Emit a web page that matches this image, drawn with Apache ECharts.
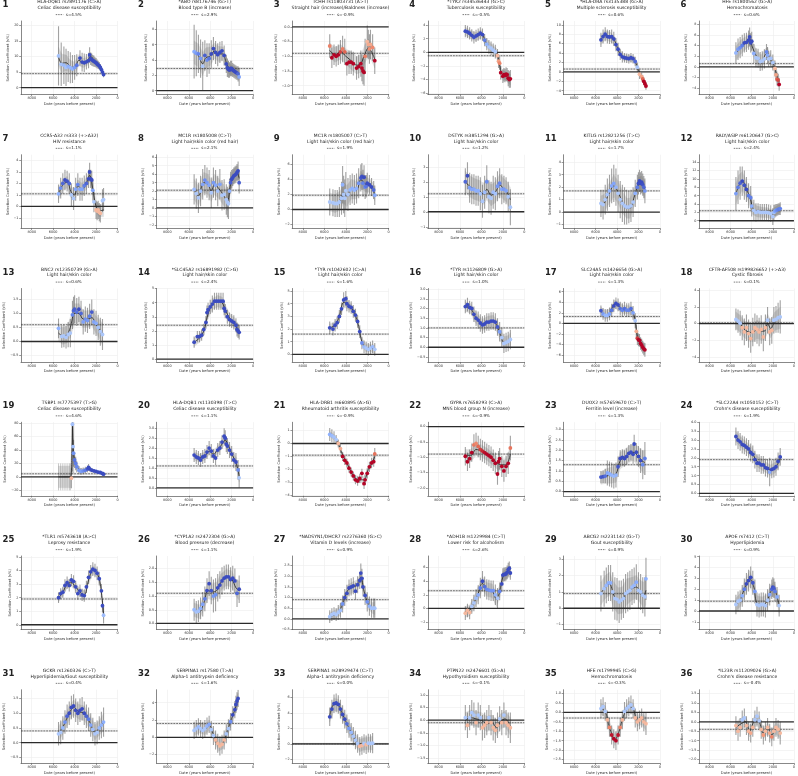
<!DOCTYPE html>
<html><head><meta charset="utf-8">
<script src="https://cdn.jsdelivr.net/npm/echarts@6/dist/echarts.min.js"></script>
<style>html,body{margin:0;padding:0;background:#fff}#c{width:798px;height:776px}</style>
</head><body><div id="c"></div>
<script>
const GENES = ["HLA-DQB1 rs2891176 (C>A)","*ABO rs8176746 (G>T)","TCHH rs11803731 (A>T)","*TYK2 rs34536443 (G>C)","*HLA-DRA rs3135388 (G>A)","HFE rs1800562 (G>A)",
"CCR5-Δ32 rs333 (+>Δ32)","MC1R rs1805008 (C>T)","MC1R rs1805007 (C>T)","DSTYK rs3851294 (G>A)","KITLG rs12821256 (T>C)","RALY/ASIP rs6120647 (G>C)",
"BNC2 rs12350739 (G>A)","*SLC45A2 rs16891982 (C>G)","*TYR rs1042602 (C>A)","*TYR rs1126809 (G>A)","SLC24A5 rs1426654 (G>A)","CFTR-ΔF508 rs199826652 (+>Δ3)",
"TSBP1 rs7775397 (T>G)","HLA-DQB1 rs1130398 (T>C)","HLA-DRB1 rs660895 (A>G)","GYPA rs7658293 (C>A)","DUOX2 rs57659670 (C>T)","*SLC22A4 rs1050152 (C>T)",
"*TLR1 rs5743618 (A>C)","*CYP1A2 rs2472304 (G>A)","*NADSYN1/DHCR7 rs2276360 (G>C)","*ADH1B rs1229984 (C>T)","ABCG2 rs2231142 (G>T)","APOE rs7412 (C>T)",
"GCKR rs1260326 (C>T)","SERPINA1 rs17580 (T>A)","SERPINA1 rs28929474 (C>T)","PTPN22 rs2476601 (G>A)","HFE rs1799945 (C>G)","*IL23R rs11209026 (G>A)"];
const TRAITS = ["Celiac disease susceptibility","Blood type B (increase)","Straight hair (increase)/Baldness (increase)","Tuberculosis susceptibility","Multiple sclerosis susceptibility","Hemochromatosis",
"HIV resistance","Light hair/skin color (red hair)","Light hair/skin color (red hair)","Light hair/skin color","Light hair/skin color","Light hair/skin color",
"Light hair/skin color","Light hair/skin color","Light hair/skin color","Light hair/skin color","Light hair/skin color","Cystic fibrosis",
"Celiac disease susceptibility","Celiac disease susceptibility","Rheumatoid arthritis susceptibility","MNS blood group N (increase)","Ferritin level (increase)","Crohn's disease susceptibility",
"Leprosy resistance","Blood pressure (decrease)","Vitamin D levels (increase)","Lower risk for alcoholism","Gout susceptibility","Hyperlipidemia",
"Hyperlipidemia/Gout susceptibility","Alpha-1 antitrypsin deficiency","Alpha-1 antitrypsin deficiency","Hypothyroidism susceptibility","Hemochromatosis","Crohn's disease resistance"];
const S_MEAN = [4.5,2.9,-0.9,-0.5,0.6,0.6, 1.1,2.1,1.9,1.2,1.7,2.4, 0.6,2.4,1.6,1.0,1.3,0.1, 4.6,1.1,-0.9,-0.9,1.3,1.9, 1.9,1.1,0.9,2.6,0.9,0.9, 0.4,1.6,0.0,-0.1,-0.3,-0.4];
const Y_RANGE = [[-2.2,21.4],[-0.5,9.1],[-2.3,0.2],[-6.2,4.6],[-4.8,10.8],[-5.2,8.6],
[-1.9,4.5],[-2.4,6.3],[-2.5,7.3],[-1.1,3.8],[-1.3,4.6],[-1.8,15.8],
[-0.73,1.89],[-0.2,5.0],[-0.6,5.2],[-0.76,3.03],[-7.3,6.6],[-4.6,4.2],
[-28,81],[-0.4,3.3],[-4.03,1.64],[-2.26,0.14],[-0.2,3.35],[-0.13,4.0],
[-0.35,5.07],[-0.22,2.46],[-0.5,2.95],[-3.1,7.7],[-1.3,3.2],[-1.7,5.06],
[-0.7,1.8],[-3,5.5],[-2.5,7],[-1.7,1.2],[-2.7,1.2],[-2.2,1.7]];
const Y_TICKS = [[0,5,10,15,20],[0,2,4,6,8],[-2,-1.5,-1,-0.5,0],[-6,-4,-2,0,2,4],[-4,-2,0,2,4,6,8,10],[-4,-2,0,2,4,6,8],
[-1,0,1,2,3,4],[-2,-1,0,1,2,3,4,5,6],[-2,0,2,4,6],[-1,0,1,2,3],[-1,0,1,2,3,4],[0,2,4,6,8,10,12,14],
[-0.5,0,0.5,1,1.5],[0,1,2,3,4,5],[0,1,2,3,4,5],[-0.5,0,0.5,1,1.5,2,2.5,3],[-6,-4,-2,0,2,4,6],[-4,-2,0,2,4],
[-20,0,20,40,60,80],[0,0.5,1,1.5,2,2.5,3],[-4,-3,-2,-1,0,1],[-2,-1.5,-1,-0.5,0],[0,0.5,1,1.5,2,2.5,3],[0,0.5,1,1.5,2,2.5,3,3.5,4],
[0,1,2,3,4,5],[0,0.5,1,1.5,2],[-0.5,0,0.5,1,1.5,2,2.5],[-2,0,2,4,6],[-1,0,1,2,3],[-1,0,1,2,3,4,5],
[-0.5,0,0.5,1,1.5],[-2,0,2,4],[-2,0,2,4,6],[-1.5,-1,-0.5,0,0.5,1],[-2.5,-2,-1.5,-1,-0.5,0,0.5,1],[-2,-1.5,-1,-0.5,0,0.5,1,1.5]];
const X_TICKS = [0,2000,4000,6000,8000];
const X_RANGE = [0,9000];

// points: [date, s%, half-width of error bar]
const P01=[[5500,10.2,9.5],[5250,7.5,7],[5000,7.2,6],[4800,6.5,6],[4600,6.8,5],[4400,6.4,5],[4200,6.0,4.5],[4000,6.5,4],[3800,7.2,3.5],[3500,9.5,2.5],[3300,8.2,3],[3100,8.0,3],[2900,8.3,2.5],[2700,8.7,2.5],[2600,10.5,2.5],[2500,9.3,2],[2400,9.0,2],[2300,8.7,1.8],[2200,8.5,1.8],[2100,8.2,1.6],[2000,8.0,1.5],[1900,7.6,1.4],[1800,7.3,1.3],[1700,7.0,1.2],[1600,6.5,1.1],[1500,5.8,1],[1400,5.0,1],[1300,4.2,0.9]];
const P02=[[5500,5.1,3.5],[5300,4.9,3],[5100,4.8,2.5],[4900,4.2,2.5],[4700,3.2,3.2],[4500,4.6,2],[4300,4.0,2.2],[4100,4.2,2],[3900,4.8,1.8],[3700,5.5,1.5],[3500,5.0,1.5],[3300,4.7,1.5],[3100,5.0,1.4],[2900,5.2,1.3],[2700,4.6,1.3],[2500,3.5,1.2],[2400,3.0,1.2],[2300,2.8,1.1],[2200,2.7,1.0],[2100,2.9,1.0],[2000,2.9,1.0],[1900,2.7,0.9],[1800,2.6,0.9],[1700,2.5,0.9],[1600,2.4,0.9],[1500,2.3,0.9],[1400,2.2,1.0],[1300,1.8,1.2]];
const P03=[[5500,-0.65,0.4],[5300,-1.05,0.35],[5100,-0.95,0.35],[4900,-1.0,0.35],[4700,-0.95,0.35],[4500,-0.85,0.4],[4300,-0.75,0.45],[4100,-0.85,0.45],[3900,-1.25,0.4],[3700,-1.2,0.4],[3500,-1.2,0.4],[3300,-1.25,0.4],[3000,-1.4,0.4],[2800,-1.35,0.4],[2600,-1.25,0.45],[2500,-1.4,0.45],[2400,-1.5,0.45],[2300,-1.55,0.45],[2200,-1.0,0.6],[2000,-0.5,0.55],[1900,-0.6,0.5],[1800,-0.75,0.5],[1700,-0.6,0.5],[1500,-0.7,0.45],[1300,-1.15,0.45]];
const P04=[[5500,3.1,0.9],[5300,3.0,0.9],[5100,2.8,0.9],[4900,2.5,0.9],[4700,2.2,0.9],[4500,2.4,0.9],[4300,2.6,0.9],[4100,2.8,0.9],[3900,2.6,0.9],[3700,1.8,0.9],[3500,1.2,0.9],[3300,0.8,1],[3100,0.6,1],[2900,0.3,1],[2700,0.1,1],[2500,-0.5,1],[2400,-1.3,1],[2300,-1.6,1],[2200,-3.0,1],[2000,-3.5,1],[1900,-3.3,1],[1800,-3.4,1],[1700,-3.2,1],[1600,-3.3,1],[1500,-3.8,1.2],[1400,-4.0,1.2],[1300,-3.9,1.3]];
const P05=[[5500,6.8,1.5],[5300,7.5,1.5],[5100,8.0,1.5],[4900,7.5,1.5],[4700,7.4,1.5],[4500,7.5,1.5],[4300,7.0,1.5],[4100,5.8,1.4],[3900,4.8,1.4],[3700,3.7,1.2],[3500,3.2,1.2],[3300,3.0,1],[3100,2.9,1],[2900,2.8,1],[2700,3.0,1],[2500,2.8,1],[2300,2.2,1],[2100,1.0,1],[1900,-0.5,1],[1700,-1.0,0.8],[1600,-1.5,0.8],[1500,-2.0,0.8],[1400,-2.5,0.8],[1300,-3.0,0.8]];
const P06=[[5500,2.6,2],[5300,3.3,2],[5100,3.6,2],[4900,4.0,2],[4700,4.5,1.8],[4500,4.6,1.8],[4300,5.0,1.8],[4200,5.6,1.8],[4100,4.5,1.8],[4000,4.8,1.8],[3800,2.5,1.8],[3600,1.7,1.8],[3400,1.6,1.8],[3200,1.0,1.8],[3000,1.1,1.8],[2800,1.5,1.8],[2600,2.8,1.5],[2500,2.2,1.5],[2400,1.5,1.5],[2200,1.6,1.5],[2000,0.8,1.5],[1800,-0.3,1.5],[1700,-1.5,1.2],[1600,-2.3,1.2],[1500,-2.5,1.2],[1400,-3.3,1.2]];
const P07=[[5500,1.1,0.8],[5300,1.6,0.9],[5100,2.0,0.9],[4900,2.3,0.9],[4700,2.2,0.9],[4500,2.0,0.9],[4300,1.0,1],[4100,0.7,1],[3900,1.5,1],[3700,1.9,1],[3500,1.5,1],[3300,1.5,1],[3100,1.8,0.9],[2900,2.0,0.9],[2700,2.4,0.8],[2600,3.0,0.8],[2500,2.4,0.8],[2400,2.3,0.8],[2300,1.4,0.9],[2200,0.4,0.9],[2000,-0.3,0.8],[1900,-0.4,0.8],[1800,-0.3,0.8],[1700,-0.5,0.8],[1600,-0.6,0.8],[1400,0.5,1],[1300,0.6,1]];
const P08=[[5500,2.2,1.8],[5300,1.7,1.8],[5100,1.2,1.8],[4900,2.0,1.8],[4700,2.8,1.8],[4500,3.3,1.8],[4300,3.0,1.8],[4100,2.7,1.8],[3900,1.8,1.8],[3700,3.0,1.8],[3500,2.7,1.8],[3300,2.0,1.8],[3100,2.8,1.8],[2900,1.5,1.8],[2700,1.6,1.8],[2500,1.0,1.8],[2400,0.7,1.8],[2300,0.5,1.8],[2200,2.0,1.5],[2100,3.0,1.3],[2000,3.4,1.1],[1900,3.6,1],[1800,3.8,1],[1700,3.9,1],[1600,4.0,1],[1500,4.2,1],[1400,4.4,1.1],[1300,3.0,1.3]];
const P09=[[5500,1.0,1.8],[5200,0.9,1.8],[5000,0.8,1.8],[4800,0.8,1.8],[4600,1.0,2],[4400,1.5,2.2],[4300,3.3,2.5],[4200,2.0,2.5],[4100,1.5,2.5],[4000,2.5,2.5],[3800,2.0,2.2],[3600,2.6,2],[3400,2.8,2],[3200,2.6,2],[3000,2.8,2],[2800,3.5,2],[2600,4.2,1.8],[2500,4.4,1.8],[2400,3.5,1.8],[2300,4.3,1.6],[2200,3.0,1.6],[2100,3.1,1.5],[2000,3.5,1.4],[1800,3.3,1.3],[1600,3.0,1.2],[1400,2.6,1.2],[1300,1.9,1.3]];
const P10=[[5500,2.0,0.9],[5300,2.4,0.9],[5100,1.6,1],[4900,1.5,1],[4700,1.5,1],[4500,1.4,1],[4300,1.4,1],[4100,1.2,1.1],[3900,0.7,1.1],[3700,1.3,1.1],[3500,2.0,1.1],[3300,1.0,1.1],[3100,0.9,1.1],[2900,1.3,1.1],[2700,1.2,1.1],[2500,1.7,1],[2300,1.9,1],[2100,1.5,1],[1900,1.5,0.9],[1700,1.4,0.9],[1500,1.0,1],[1300,0.3,1.2]];
const P11=[[5500,0.7,1.1],[5300,0.6,1.2],[5100,1.0,1.2],[4900,1.4,1.3],[4700,1.7,1.3],[4500,2.1,1.4],[4300,2.3,1.5],[4100,2.0,1.5],[3900,1.5,1.5],[3700,1.0,1.5],[3500,0.7,1.5],[3300,0.5,1.5],[3100,0.4,1.4],[2900,0.4,1.3],[2700,0.5,1.3],[2500,0.8,1.2],[2300,1.5,1.1],[2100,2.0,1],[2000,2.3,0.9],[1900,2.5,0.9],[1800,2.3,0.9],[1700,2.4,0.9],[1600,2.2,0.9],[1500,2.0,0.9],[1400,1.7,1]];
const P12=[[5500,6.5,4],[5300,8.0,4],[5100,9.0,4],[4900,9.5,3.5],[4700,8.5,3.5],[4500,7.5,3],[4300,6.0,3],[4100,5.5,2.8],[4000,3.5,2.5],[3800,2.5,2.5],[3600,2.0,2.2],[3400,2.2,2],[3200,2.0,2],[3000,2.0,2],[2800,2.0,2],[2600,2.0,2],[2400,1.9,2],[2200,1.7,2],[2000,1.0,2],[1900,2.0,1.8],[1800,2.3,1.5],[1700,2.5,1.5],[1600,2.6,1.4],[1500,2.7,1.4],[1400,2.8,1.4],[1300,2.9,1.5]];
const P13=[[5500,0.47,0.35],[5200,0.18,0.4],[5000,0.2,0.4],[4800,0.15,0.4],[4600,0.25,0.45],[4400,0.3,0.5],[4200,0.95,0.5],[4100,1.1,0.5],[4000,1.15,0.5],[3800,1.05,0.5],[3600,1.15,0.45],[3400,1.0,0.45],[3200,0.7,0.45],[3000,0.8,0.45],[2800,0.75,0.45],[2600,0.9,0.45],[2400,1.05,0.45],[2200,0.7,0.45],[2000,0.65,0.45],[1800,0.5,0.45],[1600,0.35,0.5],[1400,0.25,0.55]];
const P14=[[5500,1.2,0.4],[5200,1.6,0.4],[5000,1.6,0.4],[4800,1.7,0.4],[4600,2.1,0.4],[4400,2.6,0.45],[4300,3.3,0.5],[4200,3.5,0.5],[4000,3.7,0.5],[3800,3.9,0.6],[3600,4.1,0.6],[3400,4.1,0.6],[3200,4.1,0.6],[3000,4.1,0.6],[2800,4.1,0.6],[2700,3.6,0.5],[2600,3.4,0.5],[2400,3.0,0.5],[2200,2.8,0.5],[2000,2.7,0.5],[1800,2.6,0.5],[1600,2.4,0.5],[1500,2.1,0.5],[1400,2.0,0.5],[1300,1.9,0.5]];
const P15=[[5500,2.1,0.5],[5200,2.0,0.5],[5000,2.3,0.5],[4800,2.5,0.5],[4600,3.0,0.5],[4400,3.6,0.5],[4200,4.3,0.6],[4000,4.4,0.6],[3900,4.0,0.6],[3700,3.8,0.5],[3500,3.7,0.5],[3300,3.4,0.5],[3100,3.1,0.5],[2900,2.6,0.5],[2700,1.8,0.5],[2500,0.9,0.5],[2300,0.6,0.5],[2100,0.5,0.5],[1900,0.4,0.5],[1700,0.5,0.5],[1500,0.6,0.5],[1300,0.4,0.5]];
const P16=[[5500,2.1,0.35],[5300,2.2,0.35],[5100,2.05,0.35],[4900,2.0,0.35],[4700,1.7,0.4],[4500,1.5,0.4],[4300,1.4,0.45],[4100,1.25,0.45],[3900,1.15,0.45],[3700,1.2,0.45],[3500,1.3,0.45],[3300,1.3,0.45],[3100,1.35,0.45],[2900,1.35,0.45],[2700,1.3,0.45],[2500,1.05,0.45],[2300,0.8,0.5],[2100,0.5,0.5],[1900,0.2,0.5],[1700,0.25,0.5],[1500,0.3,0.5],[1300,0.4,0.5]];
const P17=[[5500,2.4,1],[5300,1.8,1.1],[5100,1.5,1.2],[4900,1.5,1.2],[4700,1.8,1.2],[4500,2.5,1.2],[4300,3.3,1.2],[4100,3.8,1.1],[3900,3.5,1.2],[3700,2.8,1.3],[3500,2.5,1.3],[3300,2.8,1.3],[3100,2.5,1.3],[2900,2.5,1.3],[2700,2.8,1.3],[2500,2.0,1.3],[2300,0.5,1.4],[2200,-1.5,1.3],[2100,-2.8,1.3],[2000,-3.1,1.2],[1900,-3.2,1.2],[1800,-3.8,1.2],[1700,-4.1,1.2],[1600,-4.5,1.2],[1500,-4.8,1.2],[1400,-5.0,1.3]];
const P18=[[5500,0.5,1.3],[5300,0.3,1.4],[5100,0.05,1.5],[4900,-0.5,1.5],[4700,-1.0,1.6],[4500,-0.5,1.6],[4300,-1.2,1.7],[4100,-1.8,1.7],[3900,-1.0,1.7],[3700,-0.5,1.7],[3500,-0.7,1.7],[3300,-1.0,1.7],[3100,-0.7,1.7],[2900,-1.6,1.7],[2700,-0.5,1.6],[2500,0.4,1.6],[2300,-1.0,1.6],[2100,-0.8,1.6],[1900,0.4,1.6],[1700,0.5,1.6],[1500,0.7,1.8],[1300,0.8,2]];
const P19=[[5500,null,20],[5300,null,20],[5100,null,20],[4900,null,20],[4700,null,20],[4500,null,20],[4400,null,20],[4300,-2,15],[4200,78,70],[4150,45,40],[4100,35,20],[4000,25,12],[3900,20,10],[3800,15,8],[3600,10,6],[3400,8,5],[3200,9,5],[3000,10,5],[2800,12,5],[2700,14,5],[2600,12,4],[2400,10,3],[2200,9,2.5],[2000,8,2],[1800,7,1.8],[1600,6.5,1.5],[1400,5,1.2],[1300,4,1]];
const P20=[[5500,1.65,0.35],[5300,1.55,0.35],[5100,1.5,0.35],[4900,1.4,0.35],[4700,1.55,0.35],[4500,1.6,0.35],[4300,1.8,0.35],[4100,2.0,0.35],[3900,1.85,0.35],[3700,1.6,0.35],[3500,1.5,0.35],[3300,1.9,0.35],[3100,2.0,0.35],[2900,2.3,0.35],[2700,2.6,0.4],[2600,2.5,0.4],[2500,2.2,0.4],[2400,2.1,0.4],[2200,1.9,0.4],[2000,1.7,0.4],[1800,1.4,0.4],[1600,1.3,0.45],[1400,0.9,0.5],[1300,0.5,0.5]];
const P21=[[5500,0.7,0.5],[5300,0.6,0.5],[5100,0.5,0.45],[4900,0.3,0.35],[4700,0.0,0.3],[4500,-0.4,0.35],[4300,-1.0,0.35],[4100,-1.3,0.35],[3900,-1.5,0.35],[3700,-1.9,0.35],[3500,-2.2,0.35],[3300,-2.5,0.35],[3100,-2.8,0.35],[2900,-2.9,0.35],[2700,-2.7,0.35],[2500,-2.3,0.35],[2300,-3.1,0.4],[2200,-2.8,0.4],[2000,-2.3,0.4],[1800,-1.8,0.4],[1600,-1.5,0.4],[1400,-1.4,0.4],[1300,-0.8,0.45]];
const P22=[[5500,-0.97,0.3],[5300,-1.15,0.3],[5100,-1.05,0.3],[4900,-0.85,0.3],[4700,-0.6,0.35],[4500,-0.55,0.35],[4300,-0.65,0.35],[4100,-0.75,0.35],[3900,-0.8,0.35],[3700,-0.85,0.35],[3500,-0.9,0.35],[3300,-0.95,0.35],[3100,-1.0,0.35],[2900,-1.1,0.35],[2700,-1.2,0.35],[2500,-1.55,0.35],[2400,-1.15,0.35],[2300,-1.05,0.35],[2100,-1.3,0.35],[1900,-1.45,0.35],[1700,-1.3,0.35],[1500,-1.2,0.35],[1300,-0.7,0.4]];
const P23=[[5500,0.7,0.3],[5300,0.72,0.3],[5100,0.75,0.35],[4900,0.9,0.6],[4700,0.85,0.6],[4500,0.8,0.6],[4300,0.75,0.6],[4100,0.8,0.6],[3900,1.2,0.5],[3700,1.6,0.4],[3500,1.65,0.4],[3300,1.6,0.4],[3100,1.7,0.4],[2900,1.85,0.4],[2700,1.9,0.4],[2500,1.8,0.45],[2400,2.3,0.45],[2200,1.9,0.45],[2000,1.7,0.5],[1800,1.5,0.6],[1600,1.3,0.7],[1400,1.6,0.8]];
const P24=[[5500,3.2,0.5],[5300,3.0,0.5],[5100,2.9,0.5],[4900,2.75,0.5],[4700,2.7,0.5],[4500,2.6,0.5],[4300,2.5,0.5],[4100,2.3,0.5],[3900,2.2,0.5],[3700,1.9,0.5],[3500,1.7,0.5],[3300,1.7,0.5],[3100,1.6,0.5],[2900,1.6,0.5],[2700,1.45,0.5],[2500,1.4,0.5],[2300,1.2,0.8],[2100,1.35,0.5],[1900,1.4,0.5],[1700,1.5,0.5],[1500,1.8,0.5],[1300,2.05,0.5]];
const P25=[[5500,2.0,0.4],[5300,2.3,0.4],[5100,2.4,0.4],[4900,2.9,0.45],[4700,3.1,0.45],[4500,2.9,0.45],[4300,3.3,0.45],[4100,3.2,0.45],[3900,2.8,0.45],[3700,2.3,0.45],[3500,2.5,0.45],[3300,2.2,0.45],[3100,2.15,0.45],[2900,2.8,0.45],[2700,3.5,0.5],[2500,3.9,0.5],[2300,4.1,0.5],[2100,4.0,0.5],[1900,3.8,0.5],[1700,3.4,0.5],[1500,2.5,0.5],[1400,1.4,0.5],[1300,0.7,0.6]];
const P26=[[5500,0.5,0.4],[5300,0.42,0.4],[5100,0.45,0.4],[4900,0.55,0.4],[4700,0.7,0.45],[4500,0.9,0.45],[4300,1.2,0.45],[4100,1.45,0.45],[3900,1.2,0.5],[3700,1.0,0.6],[3500,1.05,0.6],[3300,1.3,0.5],[3100,1.4,0.5],[2900,1.55,0.5],[2700,1.65,0.45],[2500,1.7,0.45],[2300,1.7,0.45],[2100,1.6,0.45],[1900,1.65,0.45],[1700,1.55,0.45],[1500,1.1,0.5],[1300,1.25,0.5]];
const P27=[[5500,0.1,0.3],[5300,0.2,0.3],[5100,0.25,0.3],[4900,0.2,0.3],[4700,0.3,0.35],[4500,0.4,0.35],[4300,0.7,0.4],[4100,1.0,0.4],[3900,1.2,0.4],[3700,1.45,0.4],[3500,1.5,0.4],[3300,1.55,0.4],[3100,1.3,0.4],[2900,1.6,0.4],[2700,1.8,0.4],[2600,2.15,0.45],[2500,1.9,0.45],[2400,1.5,0.45],[2200,1.1,0.45],[2000,0.8,0.45],[1800,0.6,0.45],[1600,0.5,0.45],[1400,0.5,0.45],[1300,0.5,0.45]];
const P28=[[5500,-0.7,1],[5300,-0.3,1],[5100,-0.6,1],[4900,0.3,1.1],[4700,0.8,1.2],[4500,1.5,1.3],[4300,2.0,1.4],[4100,3.0,1.5],[3900,4.0,1.5],[3700,3.2,1.5],[3500,2.8,1.5],[3300,2.7,1.5],[3100,2.6,1.5],[2900,2.6,1.5],[2700,2.0,1.5],[2500,1.5,1.5],[2300,2.5,1.3],[2100,3.6,1.2],[2000,4.9,1],[1900,5.0,1],[1800,5.0,1],[1700,5.1,1],[1600,5.3,1],[1500,5.7,1],[1400,5.9,1],[1300,5.2,1]];
const P29=[[5500,0.9,1.1],[5200,1.2,1.1],[5000,1.4,1.1],[4800,1.55,1.1],[4600,1.55,1.1],[4400,1.0,1.2],[4200,0.6,1.3],[4000,0.55,1.3],[3800,0.4,1.3],[3600,0.5,1.2],[3400,0.6,1.2],[3200,0.9,1.2],[3000,1.0,1.2],[2800,1.1,1.2],[2600,1.3,1.1],[2400,1.4,1.1],[2200,1.6,1.1],[2000,1.1,1.1],[1800,1.0,1.1],[1600,0.8,1.1],[1400,0.7,1.2],[1300,1.8,1.3]];
const P30=[[5500,0.6,0.9],[5300,0.9,0.9],[5100,1.0,0.9],[4900,1.4,1],[4700,2.0,1],[4500,2.5,1],[4300,2.8,1],[4100,3.1,1],[3900,2.6,1.1],[3700,1.8,1.1],[3500,0.6,1.1],[3300,0.5,1.1],[3100,0.6,1.1],[2900,0.6,1.1],[2700,0.5,1.1],[2500,1.0,1],[2300,1.5,1],[2100,2.0,0.9],[2000,2.2,0.9],[1900,2.1,0.9],[1800,1.8,0.9],[1600,1.3,0.9],[1400,0.5,1]];
const P31=[[5500,0.3,0.4],[5300,0.35,0.4],[5100,0.5,0.4],[4900,0.7,0.4],[4700,0.9,0.4],[4500,1.0,0.4],[4300,1.2,0.4],[4100,1.25,0.4],[3900,1.1,0.4],[3700,1.0,0.4],[3500,1.1,0.4],[3300,1.15,0.4],[3100,1.0,0.4],[2900,0.9,0.4],[2700,0.8,0.4],[2500,0.6,0.4],[2300,0.45,0.4],[2100,0.3,0.4],[1900,0.35,0.4],[1700,0.5,0.4],[1500,0.6,0.45],[1300,0.7,0.5]];
const P32=[[5500,0.8,1],[5300,1.0,1],[5100,1.2,1],[4900,1.0,1],[4700,0.8,1],[4500,1.0,1],[4300,1.3,1],[4100,1.5,1],[3900,0.9,1],[3700,0.2,1.1],[3500,-0.3,1.1],[3300,-0.7,1.1],[3100,-1.0,1.1],[2900,-0.8,1.1],[2700,-0.3,1.1],[2500,0.4,1.1],[2300,1.0,1.1],[2100,1.8,1],[1900,2.6,1],[1700,3.2,1],[1600,3.8,1],[1500,4.2,1],[1400,4.5,1]];
const P33=[[5500,3.5,1.2],[5300,4.5,1.2],[5100,5.2,1.2],[4900,5.3,1.2],[4700,5.1,1.2],[4500,4.5,1.2],[4300,3.8,1.2],[4100,3.2,1.2],[3900,2.6,1.2],[3700,2.0,1.2],[3500,1.5,1.2],[3300,1.0,1.2],[3100,0.5,1.2],[2900,0.05,1.2],[2700,-0.3,1.2],[2500,-0.2,1.2],[2300,0.05,1.2],[2100,-0.1,1.2],[1900,0.1,1.2],[1700,0.05,1.2],[1500,0.1,1.3]];
const P34=[[5500,0.1,0.5],[5300,-0.2,0.5],[5100,0.1,0.5],[4900,0.3,0.5],[4700,0.2,0.5],[4500,-0.1,0.5],[4300,0.2,0.5],[4100,0.1,0.5],[3900,-0.3,0.5],[3700,-0.2,0.5],[3500,-0.1,0.5],[3300,0.1,0.5],[3100,-0.1,0.5],[2900,-0.3,0.5],[2700,-0.4,0.5],[2500,-0.2,0.5],[2300,0.05,0.5],[2100,-0.1,0.5],[1900,0.2,0.5],[1700,-0.1,0.5],[1500,-0.2,0.5],[1300,-0.3,0.6]];
const P35=[[5500,0.2,0.5],[5300,0.3,0.5],[5100,0.05,0.5],[4900,-0.4,0.5],[4700,-0.8,0.5],[4500,-1.2,0.5],[4300,-1.4,0.5],[4100,-1.5,0.5],[3900,-1.2,0.5],[3700,-0.8,0.5],[3500,-0.4,0.5],[3300,0.05,0.5],[3100,0.2,0.5],[2900,0.3,0.5],[2700,0.4,0.5],[2500,0.2,0.5],[2300,-0.3,0.5],[2100,-0.5,0.5],[1900,-0.4,0.5],[1700,-0.3,0.5],[1500,-0.5,0.5],[1300,-0.6,0.6]];
const P36=[[5500,-0.2,0.5],[5300,-0.5,0.5],[5100,-0.3,0.5],[4900,0.1,0.5],[4700,0.2,0.5],[4500,-0.2,0.5],[4300,-0.5,0.5],[4100,-0.6,0.5],[3900,-0.3,0.5],[3700,0.1,0.5],[3500,0.3,0.5],[3300,0.05,0.5],[3100,-0.4,0.5],[2900,-0.7,0.5],[2700,-0.5,0.5],[2500,-0.3,0.5],[2300,-0.6,0.5],[2100,-0.8,0.5],[1900,-0.5,0.5],[1700,-0.3,0.5],[1500,-0.4,0.5],[1300,-0.6,0.6]];

// smoothed trajectory knots: [date, s%, half-width of shaded interval]
const L01=[[5500,10,3],[5200,7.8,3],[4800,8.0,2.5],[4400,6.8,2],[4000,6.2,2],[3600,8.8,1.8],[3200,8.0,1.5],[2800,8.5,1.3],[2500,10.0,1.2],[2200,8.8,1],[1800,7.4,0.8],[1500,5.8,0.7],[1300,4.3,0.6]];
const L02=[[5500,5.0,1.5],[5100,4.6,1.5],[4700,3.5,1.5],[4400,4.3,1.3],[4000,4.5,1.2],[3600,5.2,1],[3200,4.8,1],[2800,4.8,0.9],[2500,3.6,0.8],[2200,2.8,0.7],[1800,2.6,0.6],[1300,2.1,0.7]];
const L03=[[5500,-0.8,0.25],[5000,-0.95,0.25],[4500,-0.85,0.25],[4000,-1.0,0.25],[3500,-1.15,0.3],[3000,-1.3,0.3],[2600,-1.25,0.3],[2200,-0.9,0.3],[1900,-0.72,0.3],[1600,-0.85,0.3],[1300,-1.1,0.3]];
const L04=[[5500,3.1,0.6],[5000,2.6,0.6],[4500,2.3,0.6],[4000,2.7,0.6],[3600,1.5,0.6],[3000,0.5,0.6],[2600,0,0.6],[2300,-1.8,0.6],[2100,-3.2,0.6],[1800,-3.4,0.6],[1500,-3.8,0.7],[1300,-4.0,0.8]];
const L05=[[5500,6.8,1],[5100,7.8,1],[4600,7.4,1],[4200,6.5,0.9],[3800,4.2,0.8],[3400,3.1,0.7],[2800,2.9,0.7],[2400,2.6,0.7],[2100,1.0,0.6],[1800,-0.8,0.6],[1500,-2.0,0.6],[1300,-3.0,0.6]];
const L06=[[5500,2.5,1.3],[5000,3.8,1.3],[4500,4.6,1.2],[4200,5.2,1.2],[3900,3.5,1.2],[3500,1.8,1.2],[3100,1.0,1.2],[2700,2.3,1.1],[2500,2.6,1],[2300,1.6,1],[1900,0.3,1],[1600,-1.8,1],[1400,-2.8,1]];
const L07=[[5500,1.1,0.5],[5100,1.9,0.5],[4700,2.1,0.5],[4300,1.2,0.5],[4000,1.0,0.5],[3700,1.8,0.5],[3300,1.5,0.5],[2900,2.0,0.5],[2600,2.7,0.5],[2300,1.5,0.5],[2000,0.0,0.5],[1700,-0.4,0.5],[1300,-0.3,0.6]];
const L08=[[5500,2.2,1.2],[5100,1.4,1.2],[4600,3.0,1.2],[4200,2.8,1.2],[3900,2.0,1.2],[3600,2.8,1.2],[3200,2.3,1.2],[2800,1.6,1.2],[2400,0.8,1.1],[2100,2.8,1],[1800,3.8,0.8],[1500,4.2,0.8],[1300,3.5,0.9]];
const L09=[[5500,1.0,1.2],[5000,0.8,1.2],[4500,1.2,1.3],[4200,2.2,1.4],[3900,1.8,1.4],[3500,2.7,1.3],[3000,2.6,1.2],[2600,4.0,1.1],[2200,3.4,1],[1800,3.2,0.9],[1500,2.7,0.9],[1300,2.0,0.9]];
const L10=[[5500,2.0,0.7],[5100,1.7,0.7],[4600,1.5,0.7],[4200,1.4,0.7],[3800,1.2,0.7],[3500,1.5,0.7],[3100,1.1,0.7],[2700,1.3,0.7],[2300,1.8,0.7],[1900,1.5,0.7],[1600,1.3,0.7],[1300,0.8,0.8]];
const L11=[[5500,0.6,0.7],[5200,0.7,0.7],[4800,1.4,0.8],[4300,2.1,0.9],[3900,1.6,0.9],[3500,0.8,0.9],[3100,0.3,0.8],[2800,0.3,0.8],[2400,1.2,0.7],[2000,2.2,0.6],[1700,2.3,0.6],[1400,1.8,0.7]];
const L12=[[5500,6.5,2.5],[5200,8.5,2.5],[4900,9.5,2.3],[4500,7.5,2],[4100,5.0,1.8],[3900,3.0,1.5],[3500,2.2,1.3],[3000,2.0,1.2],[2500,1.9,1.2],[2100,1.5,1.1],[1800,2.2,1],[1500,2.7,1],[1300,2.9,1]];
const L13=[[5500,0.3,0.3],[5100,0.2,0.3],[4700,0.25,0.3],[4400,0.5,0.35],[4000,1.0,0.35],[3600,1.0,0.35],[3200,0.8,0.3],[2800,0.8,0.3],[2400,0.85,0.3],[2000,0.6,0.3],[1600,0.4,0.35],[1400,0.25,0.4]];
const L14=[[5500,1.2,0.3],[5000,1.5,0.3],[4600,2.0,0.3],[4200,3.2,0.35],[3800,3.9,0.4],[3300,4.1,0.4],[2900,4.0,0.4],[2600,3.5,0.35],[2200,2.9,0.35],[1800,2.6,0.35],[1500,2.2,0.35],[1300,1.9,0.35]];
const L15=[[5500,2.1,0.3],[5000,2.3,0.3],[4600,3.0,0.3],[4200,4.1,0.4],[3900,4.0,0.35],[3500,3.7,0.3],[3100,3.1,0.3],[2800,2.2,0.3],[2500,1.0,0.3],[2100,0.5,0.3],[1700,0.5,0.3],[1300,0.4,0.35]];
const L16=[[5500,2.1,0.25],[5000,2.0,0.25],[4600,1.6,0.3],[4200,1.3,0.3],[3900,1.15,0.3],[3400,1.3,0.3],[2900,1.35,0.3],[2500,1.05,0.3],[2200,0.6,0.3],[1900,0.25,0.3],[1500,0.3,0.3],[1300,0.4,0.35]];
const L17=[[5500,2.3,0.8],[5100,1.6,0.8],[4700,1.9,0.8],[4200,3.6,0.8],[3800,3.2,0.8],[3400,2.6,0.8],[3000,2.6,0.8],[2600,2.4,0.8],[2300,0.5,0.8],[2100,-2.5,0.8],[1800,-3.6,0.8],[1400,-5.0,0.9]];
const L18=[[5500,0.4,1],[5100,0.0,1],[4700,-0.7,1],[4300,-1.0,1.1],[3900,-1.1,1.1],[3500,-0.7,1.1],[3100,-0.9,1.1],[2800,-0.9,1.1],[2500,0.0,1.1],[2200,-0.6,1.1],[1800,0.3,1.1],[1300,0.7,1.3]];
const L19=[[5500,0,16],[4800,0,16],[4400,0,16],[4250,40,10],[4200,78,5],[4100,35,5],[3900,20,4],[3500,10,3],[3100,9,3],[2700,13,2.5],[2300,9,2],[1800,7,1.5],[1300,4,1]];
const L20=[[5500,1.6,0.2],[5000,1.5,0.2],[4500,1.6,0.2],[4100,1.85,0.2],[3700,1.7,0.2],[3300,1.9,0.2],[2900,2.2,0.22],[2600,2.4,0.22],[2300,2.1,0.22],[1900,1.6,0.22],[1600,1.3,0.25],[1300,0.6,0.3]];
const L21=[[5500,0.75,0.2],[5100,0.5,0.2],[4700,0.0,0.2],[4300,-0.9,0.22],[3900,-1.5,0.22],[3500,-2.2,0.22],[3100,-2.7,0.25],[2700,-2.8,0.25],[2300,-2.8,0.25],[1900,-2.0,0.25],[1500,-1.4,0.25],[1300,-1.0,0.3]];
const L22=[[5500,-0.95,0.2],[5000,-0.95,0.2],[4500,-0.75,0.2],[4000,-0.8,0.2],[3500,-0.9,0.2],[3000,-1.05,0.2],[2500,-1.2,0.2],[2100,-1.25,0.2],[1700,-1.25,0.2],[1300,-0.9,0.25]];
const L23=[[5500,0.65,0.3],[5000,0.75,0.35],[4500,0.8,0.4],[4100,0.85,0.4],[3700,1.5,0.4],[3300,1.65,0.4],[2900,1.8,0.4],[2500,1.9,0.4],[2100,1.75,0.45],[1700,1.5,0.5],[1400,1.4,0.6]];
const L24=[[5500,3.2,0.3],[5000,2.85,0.3],[4500,2.6,0.3],[4000,2.3,0.3],[3500,1.8,0.3],[3000,1.6,0.3],[2500,1.4,0.3],[2200,1.3,0.3],[1800,1.45,0.3],[1500,1.7,0.3],[1300,2.0,0.35]];
const L25=[[5500,2.0,0.3],[5100,2.4,0.3],[4700,3.0,0.3],[4300,3.1,0.3],[3900,2.8,0.3],[3500,2.4,0.3],[3100,2.2,0.3],[2700,3.3,0.3],[2300,4.05,0.3],[1900,3.8,0.3],[1600,3.0,0.3],[1300,0.8,0.4]];
const L26=[[5500,0.5,0.25],[5000,0.42,0.25],[4600,0.75,0.25],[4200,1.2,0.3],[3800,1.15,0.3],[3400,1.2,0.3],[3000,1.5,0.3],[2500,1.68,0.3],[2000,1.62,0.3],[1600,1.3,0.3],[1300,1.2,0.35]];
const L27=[[5500,0.1,0.2],[5000,0.2,0.2],[4600,0.35,0.22],[4200,0.85,0.25],[3800,1.35,0.25],[3300,1.5,0.25],[2900,1.6,0.25],[2600,1.95,0.25],[2300,1.3,0.25],[1900,0.7,0.25],[1500,0.5,0.25],[1300,0.5,0.3]];
const L28=[[5500,-0.5,0.8],[5100,-0.3,0.8],[4700,0.8,0.9],[4300,2.2,1],[3900,3.7,1],[3500,2.8,1],[3000,2.6,1],[2600,1.3,1],[2300,2.5,0.9],[2000,4.6,0.8],[1700,5.1,0.7],[1300,5.4,0.8]];
const L29=[[5500,0.9,0.7],[5100,1.3,0.7],[4700,1.5,0.7],[4300,0.8,0.8],[3900,0.45,0.8],[3500,0.5,0.8],[3100,1.0,0.8],[2600,1.2,0.7],[2200,1.3,0.7],[1800,1.0,0.7],[1500,0.8,0.8],[1300,1.1,0.9]];
const L30=[[5500,0.6,0.6],[5100,1.0,0.6],[4700,2.0,0.7],[4200,3.0,0.7],[3800,2.2,0.7],[3500,0.7,0.7],[3000,0.6,0.7],[2600,0.8,0.7],[2200,1.8,0.6],[1900,2.1,0.6],[1600,1.3,0.6],[1400,0.5,0.7]];
const L31=[[5500,0.3,0.25],[5000,0.6,0.25],[4500,1.0,0.25],[4100,1.2,0.25],[3600,1.05,0.25],[3100,1.0,0.25],[2600,0.7,0.25],[2100,0.35,0.25],[1700,0.5,0.25],[1300,0.7,0.3]];
const L32=[[5500,0.8,0.6],[5000,1.1,0.6],[4500,0.9,0.6],[4100,1.4,0.6],[3700,0.3,0.6],[3200,-0.9,0.7],[2800,-0.6,0.7],[2400,0.7,0.7],[2000,2.2,0.6],[1700,3.2,0.6],[1400,4.4,0.7]];
const L33=[[5500,3.6,0.8],[5100,5.1,0.8],[4700,5.0,0.8],[4300,3.8,0.8],[3900,2.6,0.8],[3500,1.5,0.8],[3100,0.5,0.8],[2700,-0.2,0.8],[2300,0.0,0.8],[1900,0.05,0.8],[1500,0.1,0.9]];
const L34=[[5500,0.0,0.3],[5000,0.1,0.3],[4500,0.05,0.3],[4000,0.0,0.3],[3500,-0.15,0.3],[3000,-0.1,0.3],[2600,-0.3,0.3],[2200,-0.05,0.3],[1800,0.05,0.3],[1300,-0.25,0.35]];
const L35=[[5500,0.2,0.3],[5100,0.05,0.3],[4700,-0.8,0.3],[4200,-1.45,0.3],[3800,-1.0,0.3],[3400,-0.2,0.3],[2900,0.3,0.3],[2500,0.2,0.3],[2100,-0.45,0.3],[1700,-0.35,0.3],[1300,-0.6,0.35]];
const L36=[[5500,-0.3,0.3],[5000,-0.1,0.3],[4600,0.0,0.3],[4200,-0.5,0.3],[3700,0.05,0.3],[3300,0.0,0.3],[2900,-0.6,0.3],[2500,-0.35,0.3],[2100,-0.7,0.3],[1700,-0.35,0.3],[1300,-0.55,0.35]];

const POINTS=[P01,P02,P03,P04,P05,P06,P07,P08,P09,P10,P11,P12,P13,P14,P15,P16,P17,P18,P19,P20,P21,P22,P23,P24,P25,P26,P27,P28,P29,P30,P31,P32,P33,P34,P35,P36];
const LINES=[L01,L02,L03,L04,L05,L06,L07,L08,L09,L10,L11,L12,L13,L14,L15,L16,L17,L18,L19,L20,L21,L22,L23,L24,L25,L26,L27,L28,L29,L30,L31,L32,L33,L34,L35,L36];

// ---------- styling / layout ----------
const FONT = 'DejaVu Sans';
const CW = [[59,76,192],[98,130,234],[141,176,254],[184,208,249],[221,221,221],[245,196,172],[244,154,123],[222,96,77],[180,4,38]];
function coolwarm(u){ // u in [0,1], 0 blue, 1 red
  const p = Math.max(0,Math.min(1,u))*8; const k = Math.min(7,Math.floor(p)); const f = p-k;
  const a=CW[k], b=CW[k+1];
  return 'rgb('+a.map((x,j)=>Math.round(x+(b[j]-x)*f)).join(',')+')';
}
function pointColor(v,h){
  const m = Math.abs(v)/h;
  const t = Math.max(0.32, Math.min(1, 0.32 + 0.68*(m-1)/1.5));
  return coolwarm(v>0 ? (1-t)/2 : (1+t)/2);
}
function fmtTick(v,dec){ return v.toFixed(dec).replace('-','\u2212'); }

const grids=[], xAxes=[], yAxes=[], series=[], graphics=[];
for (let i=0;i<36;i++){
  const r=Math.floor(i/6), c=i%6;
  const L=21+c*135.6, T=21+r*133.75, W=96.5, H=73.5, cx=L+W/2;
  grids.push({left:L, top:T, width:W, height:H});
  const ticks=Y_TICKS[i];
  const dec = ticks.some(v=>!Number.isInteger(v)) ? 1 : 0;
  const maxChars = Math.max(...ticks.map(v=>fmtTick(v,dec).length));
  xAxes.push({type:'value', gridIndex:i, min:X_RANGE[0], max:X_RANGE[1], inverse:true,
    name:'Date (years before present)', nameLocation:'middle', nameGap:7.5,
    nameTextStyle:{fontFamily:FONT, fontSize:3.7, color:'#333'},
    axisLine:{show:true, onZero:false, lineStyle:{color:'#555', width:0.7}},
    axisTick:{show:true, length:1.8, customValues:X_TICKS, lineStyle:{color:'#555', width:0.6}},
    axisLabel:{show:true, customValues:X_TICKS, margin:2.5, fontFamily:FONT, fontSize:3.4, color:'#333', formatter:v=>String(v)},
    splitLine:{show:true, lineStyle:{color:'#ececec', width:0.6}}});
  yAxes.push({type:'value', gridIndex:i, min:Y_RANGE[i][0], max:Y_RANGE[i][1],
    name:'Selection Coefficient (s%)', nameLocation:'middle', nameRotate:90, nameGap:5+2*maxChars,
    nameTextStyle:{fontFamily:FONT, fontSize:3.7, color:'#333'},
    axisLine:{show:true, onZero:false, lineStyle:{color:'#555', width:0.7}},
    axisTick:{show:true, length:1.8, customValues:ticks, lineStyle:{color:'#555', width:0.6}},
    axisLabel:{show:true, customValues:ticks, margin:2.5, fontFamily:FONT, fontSize:3.4, color:'#333', formatter:v=>fmtTick(v,dec)},
    splitLine:{show:true, lineStyle:{color:'#ececec', width:0.6}}});

  const pts=POINTS[i], knots=LINES[i];
  const segs=[];
  for (let k=0;k<knots.length-1;k++){
    const a=knots[k], b=knots[k+1];
    segs.push([a[0],a[1]-a[2],a[1]+a[2],b[0],b[1]-b[2],b[1]+b[2]]);
  }
  series.push({type:'custom', xAxisIndex:i, yAxisIndex:i, silent:true, clip:true, z:1, animation:false,
    data:segs, encode:{x:[0,3], y:[1,2,4,5]},
    renderItem:(p,api)=>{
      const a1=api.coord([api.value(0),api.value(1)]), a2=api.coord([api.value(0),api.value(2)]);
      const b1=api.coord([api.value(3),api.value(4)]), b2=api.coord([api.value(3),api.value(5)]);
      return {type:'polygon', shape:{points:[a1,b1,b2,a2]}, style:{fill:'#dcdcdc', stroke:'#dcdcdc', lineWidth:0.4}};
    }});
  series.push({type:'custom', xAxisIndex:i, yAxisIndex:i, silent:true, clip:true, z:2, animation:false,
    data:pts.map(p=>[p[0], p[1]==null?0:p[1], p[2], p[1]==null?1:0]), encode:{x:0, y:1},
    renderItem:(p,api)=>{
      const x=api.value(0), v=api.value(1), h=api.value(2), empty=api.value(3);
      const a=api.coord([x,v-h]), b=api.coord([x,v+h]);
      return {type:'line', shape:{x1:a[0],y1:a[1],x2:b[0],y2:b[1]},
        style:{stroke: empty ? 'rgba(120,120,120,0.5)' : 'rgba(85,85,85,0.55)', lineWidth: empty ? 0.8 : 1.1}};
    }});
  series.push({type:'custom', xAxisIndex:i, yAxisIndex:i, silent:true, clip:true, z:3, animation:false,
    data:[[4500,0,0],[4500,S_MEAN[i],1]], encode:{x:0, y:1},
    renderItem:(p,api)=>{
      const y=api.coord([0,api.value(1)])[1], cs=p.coordSys;
      if (api.value(2)===0) return {type:'line', shape:{x1:cs.x,y1:y,x2:cs.x+cs.width,y2:y}, style:{stroke:'#2b2b2b', lineWidth:1.3}};
      return {type:'group', children:[
        {type:'line', shape:{x1:cs.x,y1:y,x2:cs.x+cs.width,y2:y}, style:{stroke:'rgba(0,0,0,0.10)', lineWidth:2.4}},
        {type:'line', shape:{x1:cs.x,y1:y,x2:cs.x+cs.width,y2:y}, style:{stroke:'#444', lineWidth:0.7, lineDash:[1.8,1]}}]};
    }});
  series.push({type:'line', xAxisIndex:i, yAxisIndex:i, silent:true, z:4, animation:false,
    data:knots.map(k=>[k[0],k[1]]), smooth:0.35, showSymbol:false, symbol:'none',
    lineStyle:{color:'#1e1e1e', width:0.8}});
  series.push({type:'scatter', xAxisIndex:i, yAxisIndex:i, silent:true, z:5, animation:false,
    data:pts.filter(p=>p[1]!=null).map(p=>[p[0],p[1],p[2]]), symbolSize:3.8,
    itemStyle:{color:(q)=>pointColor(q.data[1], q.data[2]), opacity:1}});

  graphics.push({type:'text', left:L-18.5, top:T-20.5, silent:true,
    style:{text:String(i+1), font:'bold 8.5px "DejaVu Sans"', fill:'#222'}});
  graphics.push({type:'text', x:cx, y:T-19, silent:true,
    style:{text:GENES[i], font:'4.5px "DejaVu Sans"', fill:'#222', align:'center', verticalAlign:'middle'}});
  graphics.push({type:'text', x:cx, y:T-13.4, silent:true,
    style:{text:TRAITS[i], font:'4.5px "DejaVu Sans"', fill:'#222', align:'center', verticalAlign:'middle'}});
  graphics.push({type:'line', silent:true, shape:{x1:cx-13.5,y1:T-6.4,x2:cx-6,y2:T-6.4},
    style:{stroke:'#444', lineWidth:0.7, lineDash:[1.5,0.9]}});
  graphics.push({type:'text', x:cx-3.5, y:T-6.4, silent:true,
    style:{text:'s='+S_MEAN[i].toFixed(1)+'%', font:'4.1px "DejaVu Sans"', fill:'#222', align:'left', verticalAlign:'middle'}});
}

const chart = echarts.init(document.getElementById('c'), null, {renderer:'canvas'});
chart.setOption({animation:false, backgroundColor:'#fff', grid:grids, xAxis:xAxes, yAxis:yAxes, series:series, graphic:graphics});
</script></body></html>
